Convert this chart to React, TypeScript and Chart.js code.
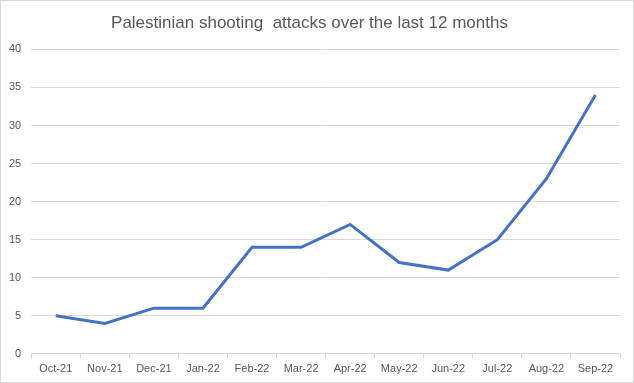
import React, { useEffect, useRef } from "react";
import { Chart, registerables } from "chart.js";

Chart.register(...registerables);

const months = ["Oct-21", "Nov-21", "Dec-21", "Jan-22", "Feb-22", "Mar-22", "Apr-22", "May-22", "Jun-22", "Jul-22", "Aug-22", "Sep-22"];
const attacks = [5, 4, 6, 6, 14, 14, 17, 12, 11, 15, 23, 34];
const titleText = "Palestinian shooting  attacks over the last 12 months";

export default function App() {
  const ref = useRef<HTMLCanvasElement | null>(null);
  useEffect(() => {
    if (!ref.current) return;
    const font = "'Liberation Sans', sans-serif";
    const chart = new Chart(ref.current, {
      type: "line",
      data: {
        labels: months,
        datasets: [
          {
            data: attacks,
            borderColor: "#4472C4",
            borderWidth: 3,
            pointRadius: 0,
            tension: 0,
            fill: false,
          },
        ],
      },
      options: {
        animation: false,
        responsive: false,
        maintainAspectRatio: false,
        layout: { padding: { left: -2, right: 13, top: 8, bottom: 2 } },
        plugins: {
          legend: { display: false },
          tooltip: { enabled: false },
          title: {
            display: true,
            text: titleText,
            color: "#595959",
            font: { family: font, size: 17, weight: "normal" },
            padding: { top: 4, bottom: 16 },
          },
        },
        scales: {
          x: {
            offset: true,
            grid: {
              display: true,
              offset: true,
              drawOnChartArea: false,
              drawTicks: true,
              tickLength: 5,
              color: "#d9d9d9",
            },
            border: { display: true, color: "#d9d9d9" },
            ticks: {
              color: "#595959",
              font: { family: font, size: 11 },
              maxRotation: 0,
              autoSkip: false,
              padding: 4,
            },
          },
          y: {
            min: 0,
            max: 40,
            ticks: {
              stepSize: 5,
              color: "#595959",
              font: { family: font, size: 11 },
              padding: 10,
            },
            grid: { color: "#d9d9d9", drawTicks: false },
            border: { display: false },
          },
        },
      },
    });
    return () => chart.destroy();
  }, []);
  return (
    <div
      style={{
        position: "fixed",
        left: 0,
        top: 0,
        width: 634,
        height: 383,
        boxSizing: "border-box",
        border: "1px solid #d9d9d9",
        background: "#fff",
      }}
    >
      <canvas ref={ref} width={632} height={381} style={{ display: "block" }} />
    </div>
  );
}
